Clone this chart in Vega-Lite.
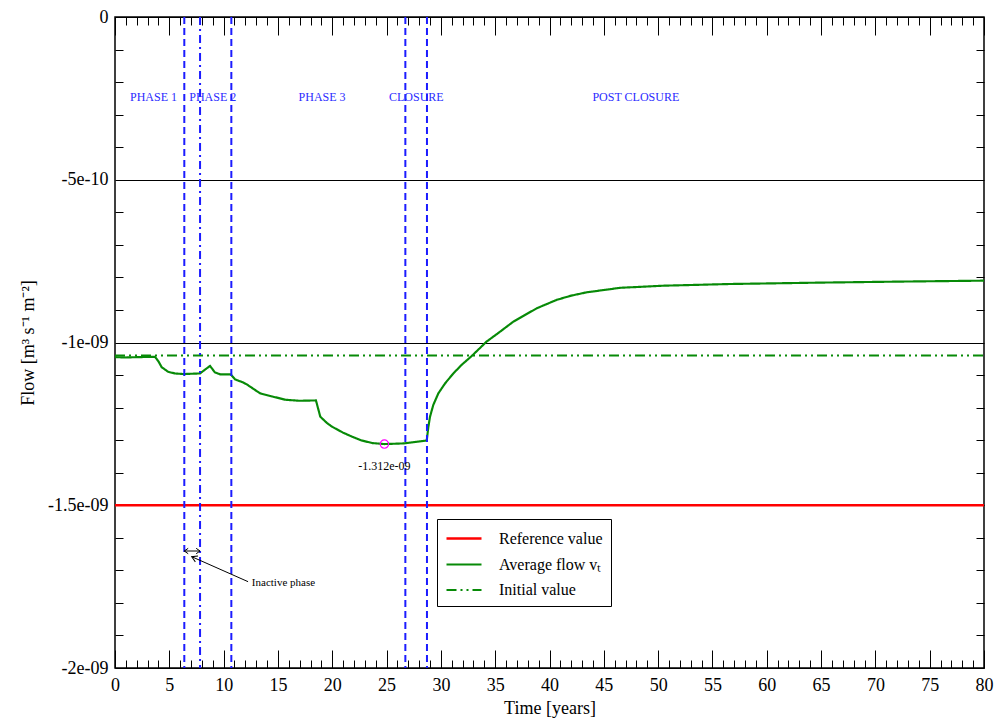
{
  "$schema": "https://vega.github.io/schema/vega-lite/v6.json",
  "width": 869,
  "height": 651,
  "autosize": "none",
  "padding": {"left": 115, "top": 17, "right": 11, "bottom": 52},
  "background": "white",
  "config": {
    "font": "Liberation Serif",
    "view": {"stroke": "#000", "strokeWidth": 1.5},
    "axis": {
      "labelFont": "Liberation Serif", "titleFont": "Liberation Serif",
      "labelFontSize": 18, "titleFontSize": 18, "titleFontWeight": "normal",
      "labelColor": "#000", "titleColor": "#000", "tickColor": "#000",
      "domain": false, "grid": false, "tickWidth": 1, "labelFlush": false
    },
    "text": {"font": "Liberation Serif"}
  },
  "datasets": {
    "lines": [
      {"series": "Reference value", "x": 0, "y": -1.5e-9},
      {"series": "Reference value", "x": 80, "y": -1.5e-9},
      {"series": "Initial value", "x": 0, "y": -1.04e-9},
      {"series": "Initial value", "x": 80, "y": -1.04e-9},
      {"series": "Average flow vₜ", "x": 0, "y": -1.045e-9},
      {"series": "Average flow vₜ", "x": 1, "y": -1.046e-9},
      {"series": "Average flow vₜ", "x": 2, "y": -1.045e-9},
      {"series": "Average flow vₜ", "x": 3.68, "y": -1.044e-9},
      {"series": "Average flow vₜ", "x": 4.0, "y": -1.058e-9},
      {"series": "Average flow vₜ", "x": 4.3, "y": -1.076e-9},
      {"series": "Average flow vₜ", "x": 4.9, "y": -1.09e-9},
      {"series": "Average flow vₜ", "x": 5.5, "y": -1.095e-9},
      {"series": "Average flow vₜ", "x": 6.3, "y": -1.097e-9},
      {"series": "Average flow vₜ", "x": 7.83, "y": -1.095e-9},
      {"series": "Average flow vₜ", "x": 8.3, "y": -1.083e-9},
      {"series": "Average flow vₜ", "x": 8.75, "y": -1.072e-9},
      {"series": "Average flow vₜ", "x": 9.2, "y": -1.092e-9},
      {"series": "Average flow vₜ", "x": 9.7, "y": -1.098e-9},
      {"series": "Average flow vₜ", "x": 10.65, "y": -1.098e-9},
      {"series": "Average flow vₜ", "x": 11.05, "y": -1.113e-9},
      {"series": "Average flow vₜ", "x": 11.8, "y": -1.123e-9},
      {"series": "Average flow vₜ", "x": 12.1, "y": -1.128e-9},
      {"series": "Average flow vₜ", "x": 13.35, "y": -1.156e-9},
      {"series": "Average flow vₜ", "x": 14.5, "y": -1.166e-9},
      {"series": "Average flow vₜ", "x": 15.7, "y": -1.176e-9},
      {"series": "Average flow vₜ", "x": 17, "y": -1.179e-9},
      {"series": "Average flow vₜ", "x": 18.5, "y": -1.178e-9},
      {"series": "Average flow vₜ", "x": 18.9, "y": -1.228e-9},
      {"series": "Average flow vₜ", "x": 19.5, "y": -1.247e-9},
      {"series": "Average flow vₜ", "x": 20, "y": -1.259e-9},
      {"series": "Average flow vₜ", "x": 21, "y": -1.277e-9},
      {"series": "Average flow vₜ", "x": 21.8, "y": -1.289e-9},
      {"series": "Average flow vₜ", "x": 22.7, "y": -1.301e-9},
      {"series": "Average flow vₜ", "x": 23.7, "y": -1.309e-9},
      {"series": "Average flow vₜ", "x": 24.8, "y": -1.312e-9},
      {"series": "Average flow vₜ", "x": 26.6, "y": -1.31e-9},
      {"series": "Average flow vₜ", "x": 28.7, "y": -1.301e-9},
      {"series": "Average flow vₜ", "x": 28.85, "y": -1.259e-9},
      {"series": "Average flow vₜ", "x": 29.0, "y": -1.228e-9},
      {"series": "Average flow vₜ", "x": 29.3, "y": -1.192e-9},
      {"series": "Average flow vₜ", "x": 29.77, "y": -1.156e-9},
      {"series": "Average flow vₜ", "x": 30.4, "y": -1.125e-9},
      {"series": "Average flow vₜ", "x": 31.15, "y": -1.095e-9},
      {"series": "Average flow vₜ", "x": 31.9, "y": -1.069e-9},
      {"series": "Average flow vₜ", "x": 32.84, "y": -1.0415e-9},
      {"series": "Average flow vₜ", "x": 34.2, "y": -0.9975e-9},
      {"series": "Average flow vₜ", "x": 35.44, "y": -0.967e-9},
      {"series": "Average flow vₜ", "x": 36.67, "y": -0.936e-9},
      {"series": "Average flow vₜ", "x": 38.82, "y": -0.895e-9},
      {"series": "Average flow vₜ", "x": 40.66, "y": -0.869e-9},
      {"series": "Average flow vₜ", "x": 42, "y": -0.856e-9},
      {"series": "Average flow vₜ", "x": 43.4, "y": -0.846e-9},
      {"series": "Average flow vₜ", "x": 46.5, "y": -0.832e-9},
      {"series": "Average flow vₜ", "x": 50.5, "y": -0.8255e-9},
      {"series": "Average flow vₜ", "x": 56.6, "y": -0.8203e-9},
      {"series": "Average flow vₜ", "x": 65, "y": -0.816e-9},
      {"series": "Average flow vₜ", "x": 72, "y": -0.813e-9},
      {"series": "Average flow vₜ", "x": 80, "y": -0.81e-9}
    ],
    "vdash": [{"x": 6.38}, {"x": 10.71}, {"x": 26.73}, {"x": 28.72}],
    "vdashdot": [{"x": 7.83}],
    "phases": [
      {"x": 3.54, "y": -2.46e-10, "label": "PHASE 1"},
      {"x": 9.0, "y": -2.46e-10, "label": "PHASE 2"},
      {"x": 19.06, "y": -2.46e-10, "label": "PHASE 3"},
      {"x": 27.74, "y": -2.46e-10, "label": "CLOSURE"},
      {"x": 47.95, "y": -2.46e-10, "label": "POST CLOSURE"}
    ],
    "minimum": [{"x": 24.8, "y": -1.312e-9, "label": "-1.312e-09"}],
    "inactive": [{"x": 6.38, "x2": 7.83, "y": -1.6406e-9}],
    "arrowline": [{"x": 7.06, "y": -1.658e-9, "x2": 12.25, "y2": -1.7348e-9}],
    "note": [{"x": 12.6, "y": -1.738e-9, "text": "Inactive phase"}]
  },
  "resolve": {"axis": {"x": "independent", "y": "independent"}},
  "layer": [
    {
      "data": {"name": "lines"},
      "mark": {"type": "line", "clip": true},
      "encoding": {
        "x": {"field": "x", "type": "quantitative",
          "scale": {"domain": [0, 80], "nice": false, "zero": false},
          "axis": {"orient": "bottom", "values": [0,5,10,15,20,25,30,35,40,45,50,55,60,65,70,75,80],
            "ticks": false, "labelPadding": 8, "format": "d", "title": "Time [years]", "titlePadding": 5}},
        "y": {"field": "y", "type": "quantitative",
          "scale": {"domain": [-2e-9, 0], "nice": false, "zero": false},
          "axis": {"orient": "left", "values": [0, -5e-10, -1e-9, -1.5e-9, -2e-9],
            "ticks": false, "labelPadding": 7, "grid": true, "gridColor": "#000", "gridOpacity": 1, "gridWidth": 1,
            "labelExpr": "datum.value == 0 ? '0' : '-' + replace(format(-datum.value, '~e'), regexp('e-([0-9])$'), 'e-0$1')",
            "title": "Flow [m³ s⁻¹ m⁻²]", "titlePadding": 10}},
        "color": {"field": "series", "type": "nominal",
          "scale": {"domain": ["Reference value", "Average flow vₜ", "Initial value"], "range": ["#ff0000", "#078a07", "#078a07"]},
          "legend": {"orient": "none", "legendX": 322, "legendY": 502, "title": null, "strokeColor": "#000", "fillColor": "#fff",
            "padding": 8, "rowPadding": 6, "labelFont": "Liberation Serif", "labelFontSize": 16, "labelColor": "#000",
            "symbolType": "M-1,0L2.5,0", "symbolSize": 400, "symbolStrokeWidth": 2, "labelOffset": 31, "labelLimit": 300}},
        "strokeDash": {"field": "series", "type": "nominal",
          "scale": {"domain": ["Reference value", "Average flow vₜ", "Initial value"], "range": [[1, 0], [1, 0], [10, 4, 2, 4, 2, 4]]},
          "legend": {"orient": "none", "legendX": 322, "legendY": 502, "title": null, "strokeColor": "#000", "fillColor": "#fff",
            "padding": 8, "rowPadding": 6, "labelFont": "Liberation Serif", "labelFontSize": 16, "labelColor": "#000",
            "symbolType": "M-1,0L2.5,0", "symbolSize": 400, "symbolStrokeWidth": 2, "labelOffset": 31, "labelLimit": 300}},
        "strokeWidth": {"field": "series", "type": "nominal",
          "scale": {"domain": ["Reference value", "Average flow vₜ", "Initial value"], "range": [2.5, 1.8, 2.5]},
          "legend": null}
      }
    },
    {
      "data": {"name": "vdash"},
      "mark": {"type": "rule", "color": "#1c1cff", "strokeWidth": 2, "strokeDash": [7, 4]},
      "encoding": {
        "x": {"field": "x", "type": "quantitative",
          "axis": {"orient": "bottom", "values": [0,5,10,15,20,25,30,35,40,45,50,55,60,65,70,75,80],
            "labels": false, "tickSize": -18, "title": null}}
      }
    },
    {
      "data": {"name": "vdashdot"},
      "mark": {"type": "rule", "color": "#1c1cff", "strokeWidth": 2, "strokeDash": [8, 4, 2, 4]},
      "encoding": {
        "x": {"field": "x", "type": "quantitative",
          "axis": {"orient": "bottom", "values": [1,2,3,4,6,7,8,9,11,12,13,14,16,17,18,19,21,22,23,24,26,27,28,29,31,32,33,34,36,37,38,39,41,42,43,44,46,47,48,49,51,52,53,54,56,57,58,59,61,62,63,64,66,67,68,69,71,72,73,74,76,77,78,79],
            "labels": false, "tickSize": -8, "title": null}}
      }
    },
    {
      "data": {"name": "phases"},
      "mark": {"type": "text", "color": "#2b2bff", "fontSize": 12, "align": "center", "baseline": "middle"},
      "encoding": {
        "x": {"field": "x", "type": "quantitative",
          "axis": {"orient": "top", "values": [0,5,10,15,20,25,30,35,40,45,50,55,60,65,70,75,80],
            "labels": false, "tickSize": -18, "title": null}},
        "y": {"field": "y", "type": "quantitative",
          "axis": {"orient": "left", "values": [-1e-10,-2e-10,-3e-10,-4e-10,-6e-10,-7e-10,-8e-10,-9e-10,-1.1e-9,-1.2e-9,-1.3e-9,-1.4e-9,-1.6e-9,-1.7e-9,-1.8e-9,-1.9e-9],
            "labels": false, "tickSize": -8, "title": null}},
        "text": {"field": "label"}
      }
    },
    {
      "data": {"name": "minimum"},
      "mark": {"type": "point", "shape": "circle", "filled": false, "stroke": "#ff00ff", "strokeWidth": 1.2, "size": 70, "opacity": 1},
      "encoding": {
        "x": {"field": "x", "type": "quantitative",
          "axis": {"orient": "top", "values": [1,2,3,4,6,7,8,9,11,12,13,14,16,17,18,19,21,22,23,24,26,27,28,29,31,32,33,34,36,37,38,39,41,42,43,44,46,47,48,49,51,52,53,54,56,57,58,59,61,62,63,64,66,67,68,69,71,72,73,74,76,77,78,79],
            "labels": false, "tickSize": -8, "title": null}},
        "y": {"field": "y", "type": "quantitative",
          "axis": {"orient": "right", "values": [-1e-10,-2e-10,-3e-10,-4e-10,-6e-10,-7e-10,-8e-10,-9e-10,-1.1e-9,-1.2e-9,-1.3e-9,-1.4e-9,-1.6e-9,-1.7e-9,-1.8e-9,-1.9e-9],
            "labels": false, "tickSize": -8, "title": null}}
      }
    },
    {
      "data": {"name": "minimum"},
      "mark": {"type": "text", "color": "#000", "fontSize": 12, "align": "center", "baseline": "middle", "dy": 22},
      "encoding": {
        "x": {"field": "x", "type": "quantitative", "axis": null},
        "y": {"field": "y", "type": "quantitative", "axis": null},
        "text": {"field": "label"}
      }
    },
    {
      "data": {"name": "inactive"},
      "mark": {"type": "rule", "color": "#000", "strokeWidth": 1},
      "encoding": {
        "x": {"field": "x", "type": "quantitative", "axis": null},
        "x2": {"field": "x2"},
        "y": {"field": "y", "type": "quantitative", "axis": null}
      }
    },
    {
      "data": {"name": "inactive"},
      "mark": {"type": "point", "shape": "M-1,-0.7L0,0L-1,0.7", "filled": false, "stroke": "#000", "strokeWidth": 1, "size": 60, "angle": 180, "opacity": 1},
      "encoding": {
        "x": {"field": "x", "type": "quantitative", "axis": null},
        "y": {"field": "y", "type": "quantitative", "axis": null}
      }
    },
    {
      "data": {"name": "inactive"},
      "mark": {"type": "point", "shape": "M-1,-0.7L0,0L-1,0.7", "filled": false, "stroke": "#000", "strokeWidth": 1, "size": 60, "angle": 0, "opacity": 1},
      "encoding": {
        "x": {"field": "x2", "type": "quantitative", "axis": null},
        "y": {"field": "y", "type": "quantitative", "axis": null}
      }
    },
    {
      "data": {"name": "arrowline"},
      "mark": {"type": "rule", "color": "#000", "strokeWidth": 1},
      "encoding": {
        "x": {"field": "x", "type": "quantitative", "axis": null},
        "y": {"field": "y", "type": "quantitative", "axis": null},
        "x2": {"field": "x2"},
        "y2": {"field": "y2"}
      }
    },
    {
      "data": {"name": "arrowline"},
      "mark": {"type": "point", "shape": "M-1,-0.6L0,0L-1,0.6", "filled": false, "stroke": "#000", "strokeWidth": 1, "size": 120, "angle": 204, "opacity": 1},
      "encoding": {
        "x": {"field": "x", "type": "quantitative", "axis": null},
        "y": {"field": "y", "type": "quantitative", "axis": null}
      }
    },
    {
      "data": {"name": "note"},
      "mark": {"type": "text", "color": "#000", "fontSize": 11, "align": "left", "baseline": "middle"},
      "encoding": {
        "x": {"field": "x", "type": "quantitative", "axis": null},
        "y": {"field": "y", "type": "quantitative", "axis": null},
        "text": {"field": "text"}
      }
    }
  ]
}
